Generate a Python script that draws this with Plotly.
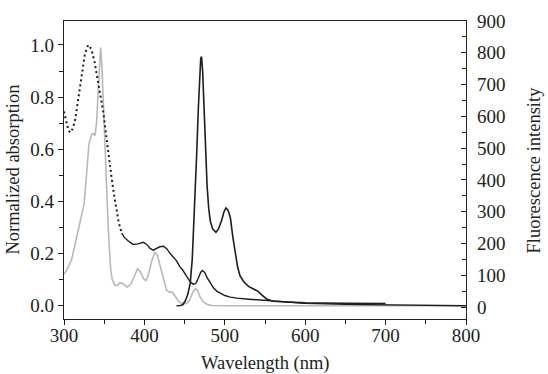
import plotly.graph_objects as go

# Dark absorption spectrum (left axis) - dotted at short wavelengths
abs_dark_wl = [300, 303, 305.5, 308, 311, 314, 318, 322, 326, 330, 334, 338, 342, 345, 349, 353, 356, 359, 362, 365.5, 368, 371.7,
               375, 380, 386, 392, 398.5, 403, 407, 411, 415, 419, 424, 428, 432, 436, 440, 444, 448, 452, 457, 461, 464, 467,
               470, 472, 475, 478, 481.6, 486, 490, 494, 500, 507, 515, 530, 544, 560, 577, 600, 650, 700, 750, 800]
abs_dark_val = [0.745, 0.70, 0.672, 0.664, 0.68, 0.715, 0.80, 0.895, 0.965, 1.0, 0.985, 0.935, 0.86, 0.82, 0.74, 0.64, 0.56, 0.495, 0.43, 0.37, 0.32, 0.278,
                0.262, 0.248, 0.235, 0.237, 0.243, 0.235, 0.22, 0.213, 0.218, 0.226, 0.228, 0.218, 0.2, 0.187, 0.172, 0.15, 0.135, 0.115, 0.092, 0.082, 0.086, 0.105,
                0.128, 0.135, 0.128, 0.108, 0.088, 0.068, 0.056, 0.048, 0.039, 0.033, 0.029, 0.025, 0.022, 0.017, 0.013, 0.009, 0.005, 0.003, 0.001, 0.0]
dotted_until = 371.7

# Gray absorption spectrum (left axis)
abs_gray_wl = [300, 304, 309.5, 314, 318, 322, 325, 328, 331, 334.5, 336.5, 338.5, 340.5, 342.5, 344.5, 345.6, 347, 348.2, 351, 353, 355, 358, 360,
               363.4, 366, 369.7, 373, 378.5, 383, 387, 391.5, 395, 399, 402, 405, 409, 413, 416, 419, 423.5, 427.5, 431, 434.5, 438, 442,
               446, 452, 456, 460, 463.5, 466, 469, 473, 478, 484, 500, 800]
abs_gray_val = [0.12, 0.14, 0.177, 0.24, 0.305, 0.36, 0.39, 0.5, 0.62, 0.658, 0.66, 0.652, 0.70, 0.82, 0.95, 0.99, 0.93, 0.84, 0.56, 0.42, 0.30, 0.14, 0.10,
                0.078, 0.078, 0.088, 0.085, 0.071, 0.082, 0.11, 0.142, 0.13, 0.103, 0.096, 0.12, 0.17, 0.205, 0.195, 0.16, 0.105, 0.06, 0.052, 0.052, 0.038, 0.018,
                0.01, 0.008, 0.02, 0.05, 0.066, 0.06, 0.035, 0.015, 0.005, 0.001, 0.0, 0.0]

# Fluorescence spectrum (right axis)
fl_wl = [440, 445, 448, 451, 454, 457, 459.5, 461.7, 463.5, 465, 467, 468.5, 470, 471, 472.5, 474, 476, 478, 480, 482, 485, 489, 492, 496, 499,
         501.5, 504, 507, 510, 513, 516, 519, 524, 530, 536, 541, 546, 552, 560, 577, 600, 650, 700]
fl_val = [4, 5, 8, 20, 40, 75, 150, 270, 380, 480, 620, 720, 780, 788, 740, 640, 490, 380, 310, 270, 245, 235, 245, 272, 300,
          312, 305, 280, 220, 165, 125, 98, 78, 64, 56, 50, 38, 25, 18, 15, 13, 12, 11]

x_ticks = [300, 400, 500, 600, 700, 800]
left_ticks = [0.0, 0.2, 0.4, 0.6, 0.8, 1.0]
right_ticks = [0, 100, 200, 300, 400, 500, 600, 700, 800, 900]

dark = "#1e1e1e"
gray = "#b9b9b9"
font = "Liberation Serif, Times New Roman, serif"
tick_size = 19
title_size = 18.5

i_split = abs_dark_wl.index(dotted_until)

fig = go.Figure()
fig.add_trace(go.Scatter(x=abs_gray_wl, y=abs_gray_val, mode="lines", line=dict(color=gray, width=1.6), yaxis="y"))
fig.add_trace(go.Scatter(x=abs_dark_wl[:i_split + 1], y=abs_dark_val[:i_split + 1], mode="lines",
                         line=dict(color=dark, width=2, dash="2px,3px"), yaxis="y"))
fig.add_trace(go.Scatter(x=abs_dark_wl[i_split:], y=abs_dark_val[i_split:], mode="lines",
                         line=dict(color=dark, width=1.4), yaxis="y"))
fig.add_trace(go.Scatter(x=fl_wl, y=fl_val, mode="lines", line=dict(color=dark, width=1.6), yaxis="y2"))

axis_common = dict(showgrid=False, zeroline=False, showline=True, linecolor="#222", linewidth=1.3,
                   tickfont=dict(family=font, size=tick_size, color="#222"), tickcolor="#222")

fig.update_layout(
    width=548, height=374,
    margin=dict(l=63.5, r=82, t=21, b=55),
    paper_bgcolor="white", plot_bgcolor="white",
    showlegend=False,
    xaxis=dict(range=[300, 800], tickvals=x_ticks, ticks="outside", ticklen=4.5, tickwidth=1.2,
               ticklabelstandoff=-5,
               mirror=True, minor=dict(dtick=50, ticks="outside", ticklen=3.5, tickcolor="#222", tickwidth=1.2),
               **axis_common),
    yaxis=dict(range=[-0.051, 1.092], tickvals=left_ticks, ticktext=["0.0", "0.2", "0.4", "0.6", "0.8", "1.0"],
               ticks="outside", ticklen=5, tickwidth=1.2,
               minor=dict(tickvals=[0.1, 0.3, 0.5, 0.7, 0.9], ticks="outside", ticklen=4, tickcolor="#222", tickwidth=1.2),
               **axis_common),
    yaxis2=dict(range=[-37.7, 900], overlaying="y", side="right", tickvals=right_ticks,
                ticks="inside", ticklen=5, tickwidth=1.2, ticklabelstandoff=6,
                minor=dict(dtick=50, ticks="inside", ticklen=4, tickcolor="#222", tickwidth=1.2),
                **axis_common),
    annotations=[
        dict(text="Wavelength (nm)", xref="paper", yref="paper", x=0.5, y=-0.148, showarrow=False,
             xanchor="center", yanchor="middle", font=dict(family=font, size=title_size, color="#222")),
        dict(text="Normalized absorption", xref="paper", yref="paper", x=-0.128, y=0.5, showarrow=False,
             textangle=-90, xanchor="center", yanchor="middle", font=dict(family=font, size=title_size, color="#222")),
        dict(text="Fluorescence intensity", xref="paper", yref="paper", x=1.168, y=0.5, showarrow=False,
             textangle=-90, xanchor="center", yanchor="middle", font=dict(family=font, size=title_size, color="#222")),
    ],
)

fig.write_html("out.html", config={"displayModeBar": False},
               post_script="document.body.style.margin='0';document.body.style.overflow='hidden';")
